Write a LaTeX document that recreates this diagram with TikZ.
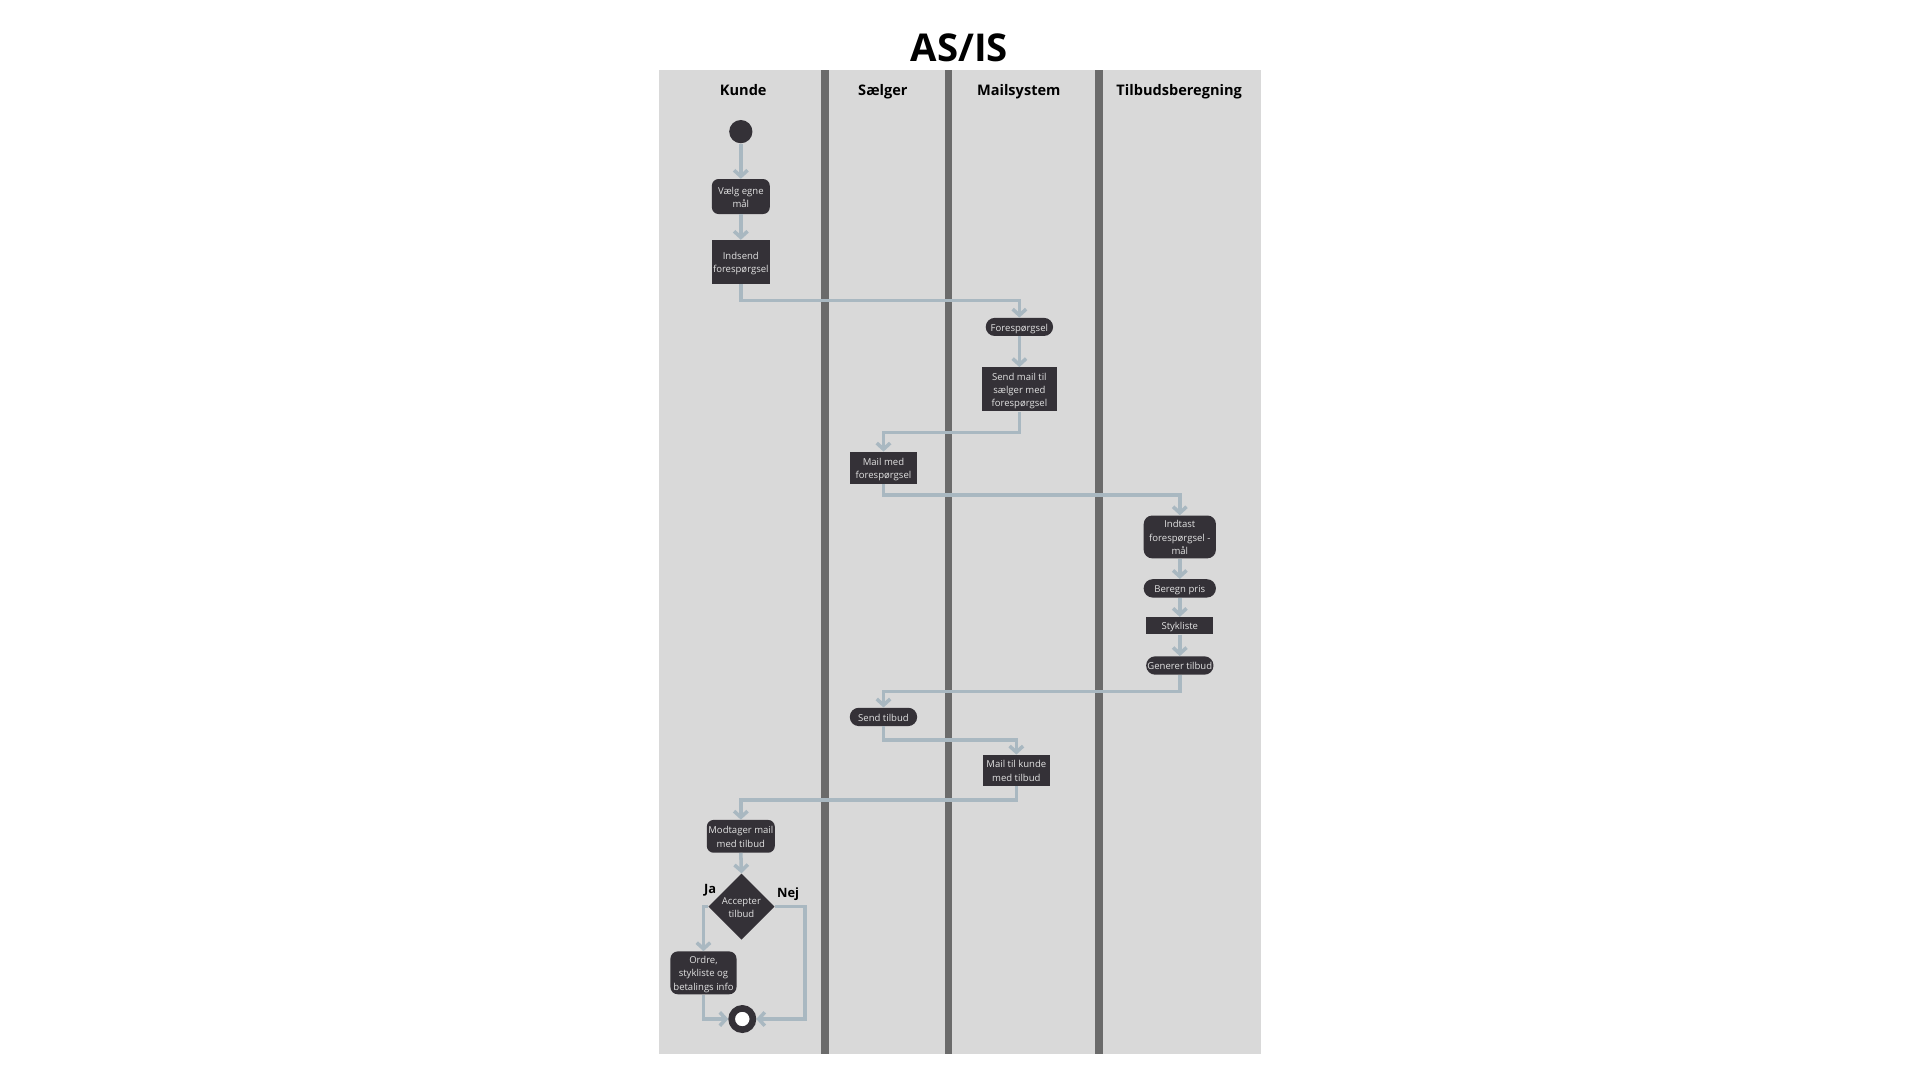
\documentclass[tikz,border=0pt]{standalone}
\usepackage{fontspec}
\setmainfont{Open Sans}
\usetikzlibrary{arrows.meta,shapes.geometric}
\definecolor{lanegray}{HTML}{D9D9D9}
\definecolor{divgray}{HTML}{6B6B6B}
\definecolor{nodedark}{HTML}{343137}
\definecolor{nodetext}{HTML}{E2E2E2}
\definecolor{flowcol}{HTML}{A9B8C1}
\newcommand{\ml}[1]{\raisebox{-1.2pt}[\height][\depth]{\begin{tabular}{@{}c@{}}#1\end{tabular}}}
\tikzset{
  lane/.style={fill=lanegray, draw=none},
  divider/.style={fill=divgray, draw=none},
  boxtext/.style={text=nodetext, font=\fontsize{7.8}{10.8}\selectfont, inner sep=0pt},
  act/.style={boxtext, fill=nodedark, draw=none},
  roundact/.style={act, rounded corners=5.5pt},
  pill/.style={act, rounded corners=7.4pt},
  flow/.style={draw=flowcol, line width=2.9pt, -{Straight Barb[length=5pt,width=11pt]}},
  header/.style={font=\fontsize{11.9}{14}\selectfont\bfseries, anchor=base, inner sep=0pt},
  branchlbl/.style={font=\fontsize{10.5}{12}\selectfont\bfseries, inner sep=0pt},
}
\begin{document}
\begin{tikzpicture}[x=1pt,y=-1pt]
\useasboundingbox[fill=white] (0,0) rectangle (1568,882);
% title
\node[font=\fontsize{31.3}{36}\selectfont\bfseries, anchor=base, inner sep=0pt] (title) at (783.5,50.4) {AS/IS};
% lanes
\fill[lane] (538,57) rectangle (1030,861);
\fill[divider] (670.5,57) rectangle (676.6,861);
\fill[divider] (771.6,57) rectangle (777.7,861);
\fill[divider] (894.2,57) rectangle (900.4,861);
% headers
\node[header] (hkunde) at (607,78.2) {Kunde};
\node[header] (hsaelger) at (721,78.2) {Sælger};
\node[header] (hmail) at (832,78.2) {Mailsystem};
\node[header] (htilbud) at (963,78.2) {Tilbudsberegning};
% Kunde lane
\node[circle, fill=nodedark, minimum size=19pt, inner sep=0pt] (start) at (605,107.5) {};
\node[roundact, minimum width=47.3pt, minimum height=28.6pt] (valg) at (605,160.5) {\ml{Vælg egne\\mål}};
\node[act, minimum width=47.3pt, minimum height=35.7pt] (indsend) at (605,213.9) {\ml{Indsend\\forespørgsel}};
% Mailsystem
\node[pill, minimum width=55pt, minimum height=14.8pt] (foresp) at (832.5,267) {\ml{Forespørgsel}};
\node[act, minimum width=61pt, minimum height=36pt] (sendmail) at (832.5,318) {\ml{Send mail til\\sælger med\\forespørgsel}};
% Saelger
\node[act, minimum width=55pt, minimum height=26pt] (mailmed) at (721.5,382) {\ml{Mail med\\forespørgsel}};
% Tilbudsberegning
\node[roundact, rounded corners=7pt, minimum width=59pt, minimum height=35pt] (indtast) at (963.5,438.5) {\ml{Indtast\\forespørgsel -\\mål}};
\node[pill, minimum width=59pt, minimum height=15pt] (beregn) at (963.5,480.5) {\ml{Beregn pris}};
\node[act, minimum width=55pt, minimum height=14pt] (stykliste) at (963.5,511) {\ml{Stykliste}};
\node[pill, minimum width=55pt, minimum height=15pt] (generer) at (963.5,543.5) {\ml{Generer tilbud}};
% Saelger
\node[pill, minimum width=55pt, minimum height=15pt] (sendtilbud) at (721.5,585.5) {\ml{Send tilbud}};
% Mailsystem
\node[act, minimum width=54.5pt, minimum height=25.5pt] (mailkunde) at (830,629.2) {\ml{Mail til kunde\\med tilbud}};
% Kunde
\node[roundact, minimum width=55.5pt, minimum height=26.8pt] (modtager) at (605,683) {\ml{Modtager mail\\med tilbud}};
\node[diamond, aspect=1, boxtext, fill=nodedark, minimum width=54pt, minimum height=54pt] (accept) at (605.5,740.4) {\ml{Accepter\\tilbud}};
\node[roundact, rounded corners=6pt, minimum width=54pt, minimum height=35pt] (ordre) at (574.5,794.5) {\ml{Ordre,\\stykliste og\\betalings info}};
\node[circle, fill=white, draw=nodedark, line width=5.4pt, minimum size=17.4pt, inner sep=0pt] (end) at (606.2,832.2) {};
\node[branchlbl] (ja) at (580,727) {Ja};
\node[branchlbl] (nej) at (643.6,730.5) {Nej};
% connectors
\draw[flow] (start) -- (valg);
\draw[flow] (valg) -- (indsend);
\draw[flow] (indsend.south) -- ++(0,13.3) -| (foresp.north);
\draw[flow] (foresp) -- (sendmail);
\draw[flow] (sendmail.south) -- ++(0,17) -| (mailmed.north);
\draw[flow] (mailmed.south) -- ++(0,9) -| (indtast.north);
\draw[flow] (indtast) -- (beregn);
\draw[flow] (beregn) -- (stykliste);
\draw[flow] (stykliste) -- (generer);
\draw[flow] (generer.south) -- ++(0,13.5) -| (sendtilbud.north);
\draw[flow] (sendtilbud.south) -- ++(0,11) -| (mailkunde.north);
\draw[flow] (mailkunde.south) -- ++(0,11) -| (modtager.north);
\draw[flow] (modtager.south) -- (accept.north);
\draw[flow] (accept.west) -| (ordre.north);
\draw[flow] (accept.east) -- ++(24.7,0) |- (end.east);
\draw[flow] (ordre.south) |- (end.west);
\end{tikzpicture}
\end{document}
